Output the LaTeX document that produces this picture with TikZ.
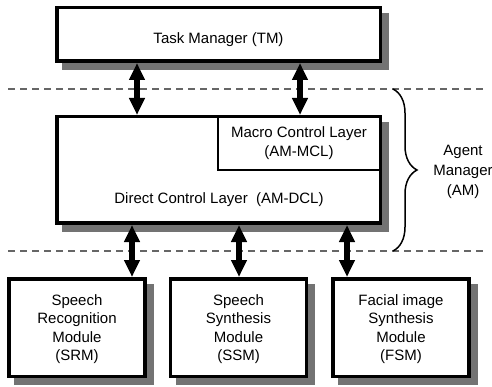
\documentclass[tikz,border=0pt]{standalone}
\usepackage{fontspec}
\setmainfont{Liberation Sans}
\usetikzlibrary{arrows.meta,decorations.pathreplacing}
\begin{document}
\begin{tikzpicture}[x=1pt,y=-1pt]
\tikzset{
  box/.style={draw=black, line width=3.5pt, fill=white, rectangle, inner sep=0pt},
  shadowstrip/.style={fill=black!55},
  innerbox/.style={draw=black, line width=1.8pt, rectangle, inner sep=0pt},
  txt/.style={font=\fontsize{15}{18.5}\selectfont, align=center, inner sep=0pt},
  dbl/.style={line width=6.5pt, {Triangle[length=17pt,width=15pt]}-{Triangle[length=17pt,width=15pt]}},
  sepline/.style={draw=black!60, line width=1.2pt, dash pattern=on 7pt off 5pt},
}
\useasboundingbox (0,0) rectangle (492,387);

% separator lines
\coordinate (d1l) at (8,89);
\coordinate (d1r) at (484,89);
\coordinate (d2l) at (8,251);
\coordinate (d2r) at (484,251);
\draw[sepline] (d1l) -- (d1r);
\draw[sepline] (d2l) -- (d2r);

% boxes
\node[box, minimum width=323.5pt, minimum height=53.5pt] (tm) at (218.5,34.5) {};
\node[box, minimum width=323.5pt, minimum height=106.5pt] (am) at (218.5,170) {};
\node[box, minimum width=136pt, minimum height=97.5pt] (srm) at (77,327.5) {};
\node[box, minimum width=136pt, minimum height=97.5pt] (ssm) at (238.5,327.5) {};
\node[box, minimum width=136pt, minimum height=97.5pt] (fsm) at (401,327.5) {};

% shadows: right and bottom strips of each box
\fill[shadowstrip] ([shift={(0,7)}]tm.north east) rectangle ([shift={(7,7)}]tm.south east);
\fill[shadowstrip] ([shift={(7,0)}]tm.south west) rectangle ([shift={(7,7)}]tm.south east);
\fill[shadowstrip] ([shift={(0,7)}]am.north east) rectangle ([shift={(7,7)}]am.south east);
\fill[shadowstrip] ([shift={(7,0)}]am.south west) rectangle ([shift={(7,7)}]am.south east);
\fill[shadowstrip] ([shift={(0,7)}]srm.north east) rectangle ([shift={(7,7)}]srm.south east);
\fill[shadowstrip] ([shift={(7,0)}]srm.south west) rectangle ([shift={(7,7)}]srm.south east);
\fill[shadowstrip] ([shift={(0,7)}]ssm.north east) rectangle ([shift={(7,7)}]ssm.south east);
\fill[shadowstrip] ([shift={(7,0)}]ssm.south west) rectangle ([shift={(7,7)}]ssm.south east);
\fill[shadowstrip] ([shift={(0,7)}]fsm.north east) rectangle ([shift={(7,7)}]fsm.south east);
\fill[shadowstrip] ([shift={(7,0)}]fsm.south west) rectangle ([shift={(7,7)}]fsm.south east);

% inner layer and texts
\node[innerbox, minimum width=162.25pt, minimum height=53.25pt] (mcl) at (299.1,143.4) {};
\node[txt] (tmt) at (218.5,40) {Task Manager (TM)};
\node[txt] (mclt) at (299,143) {Macro Control Layer\\(AM-MCL)};
\node[txt] (dclt) at (219,200) {Direct Control Layer\ \ (AM-DCL)};
\node[txt] (srmt) at (77,329) {Speech\\Recognition\\Module\\(SRM)};
\node[txt] (ssmt) at (238.5,329) {Speech\\Synthesis\\Module\\(SSM)};
\node[txt] (fsmt) at (401,329) {Facial image\\Synthesis\\Module\\(FSM)};

% arrows
\coordinate (a1) at (137,0);
\coordinate (a2) at (300,0);
\coordinate (b1) at (132,0);
\coordinate (b2) at (239,0);
\coordinate (b3) at (347,0);
\draw[dbl] (tm.south -| a1) -- (am.north -| a1);
\draw[dbl] (tm.south -| a2) -- (am.north -| a2);
\draw[dbl] (am.south -| b1) -- (srm.north -| b1);
\draw[dbl] (am.south -| b2) -- (ssm.north -| b2);
\draw[dbl] (am.south -| b3) -- (fsm.north -| b3);

% brace
\coordinate (bt) at (393,89);
\coordinate (bb) at (393,251);
\draw[decorate, decoration={brace, amplitude=24pt}, line width=1.5pt] (bt) -- (bb);
\node[txt, font=\fontsize{15}{20}\selectfont] (agt) at (463,172) {Agent\\Manager\\(AM)};
\end{tikzpicture}
\end{document}
